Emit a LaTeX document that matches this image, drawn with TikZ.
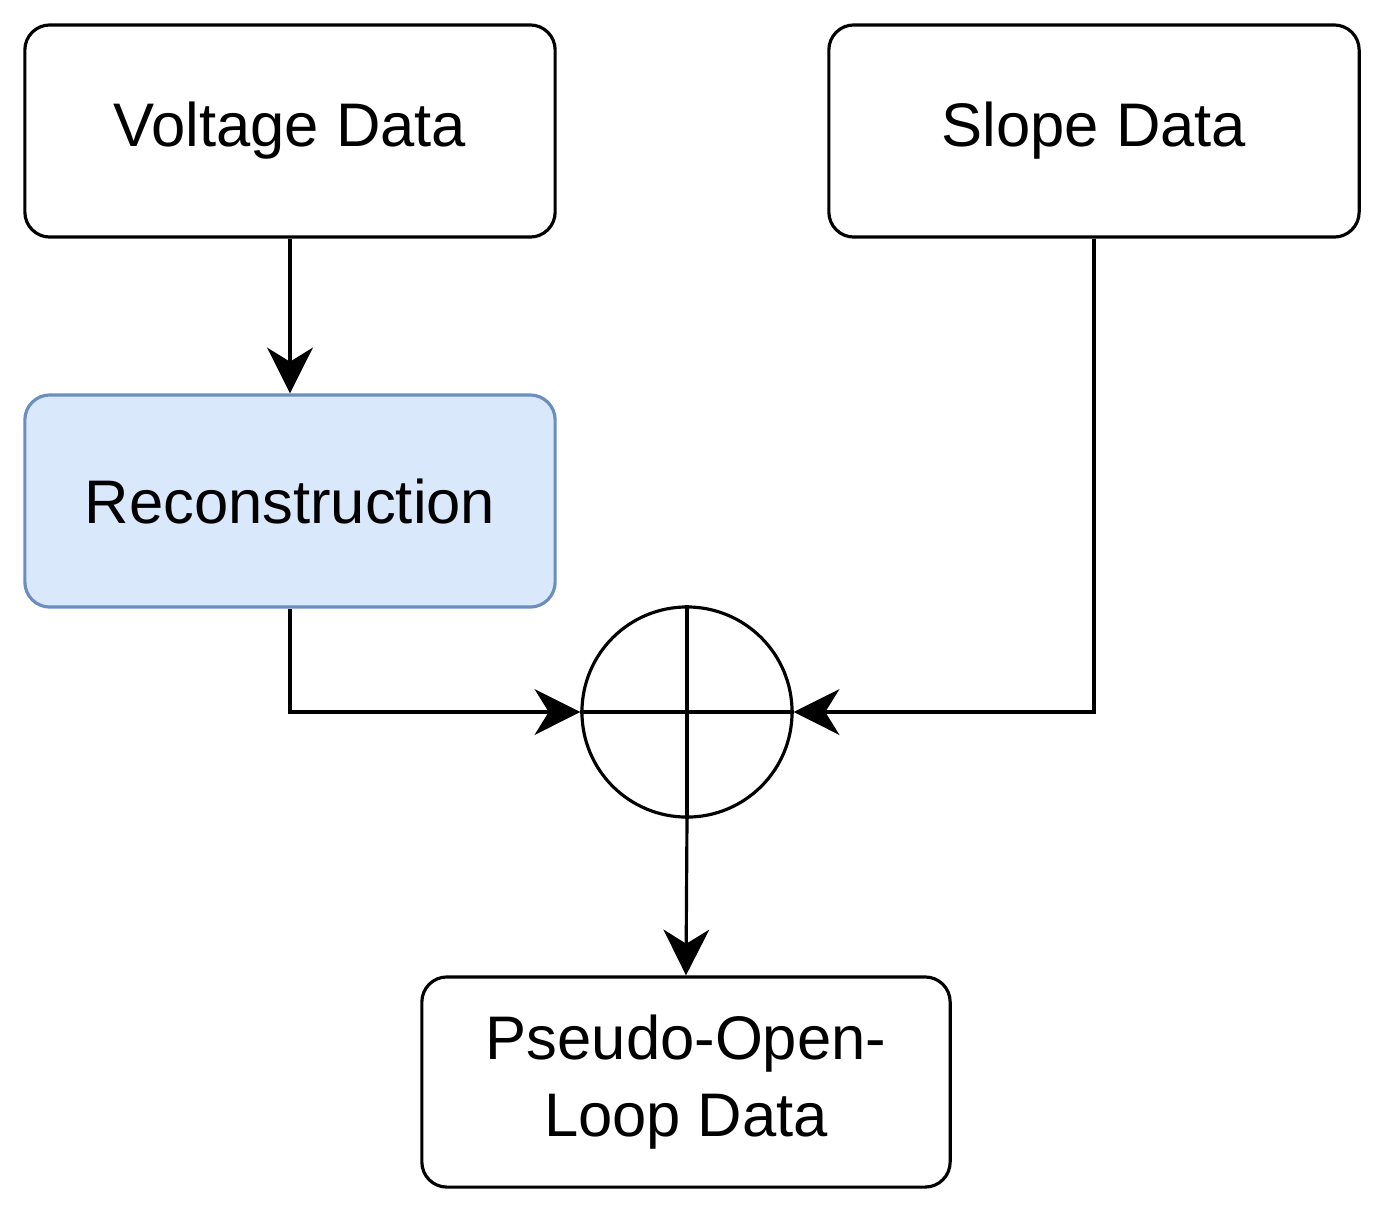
\documentclass[tikz,border=0pt]{standalone}
\usepackage{fontspec}
\setmainfont{Liberation Sans}
\usetikzlibrary{arrows.meta}
\definecolor{bfill}{HTML}{DAE8FC}
\definecolor{bdraw}{HTML}{6C8EBF}
\begin{document}
\begin{tikzpicture}[x=0.01cm,y=-0.01cm,
  box/.style={draw,line width=0.9pt,rounded corners=0.25cm,minimum width=5.3cm,minimum height=2.12cm,align=center,font=\fontsize{17.5}{22}\selectfont},
  arr/.style={line width=0.9pt,-{Stealth[length=13pt,width=13pt,inset=4pt]}}]
\useasboundingbox (0,0) rectangle (1379,1211);
\node[box] (v) at (290,131) {Voltage Data};
\node[box] (s) at (1094,131) {Slope Data};
\node[box,fill=bfill,draw=bdraw] (r) at (290,501) {Reconstruction};
\node[box,minimum width=5.28cm,minimum height=2.1cm] (p) at (686,1082) {Pseudo-Open-\\Loop Data};
\node[draw,circle,line width=0.9pt,minimum size=2.1cm,inner sep=0pt] (c) at (687,712) {};
\draw[line width=0.9pt] (c.north) -- (c.south) (c.west) -- (c.east);
\draw[arr] (v) -- (r);
\draw[arr] (r.south) |- (c.west);
\draw[arr] (s.south) |- (c.east);
\draw[arr] (c.south) -- (p.north);
\end{tikzpicture}
\end{document}
